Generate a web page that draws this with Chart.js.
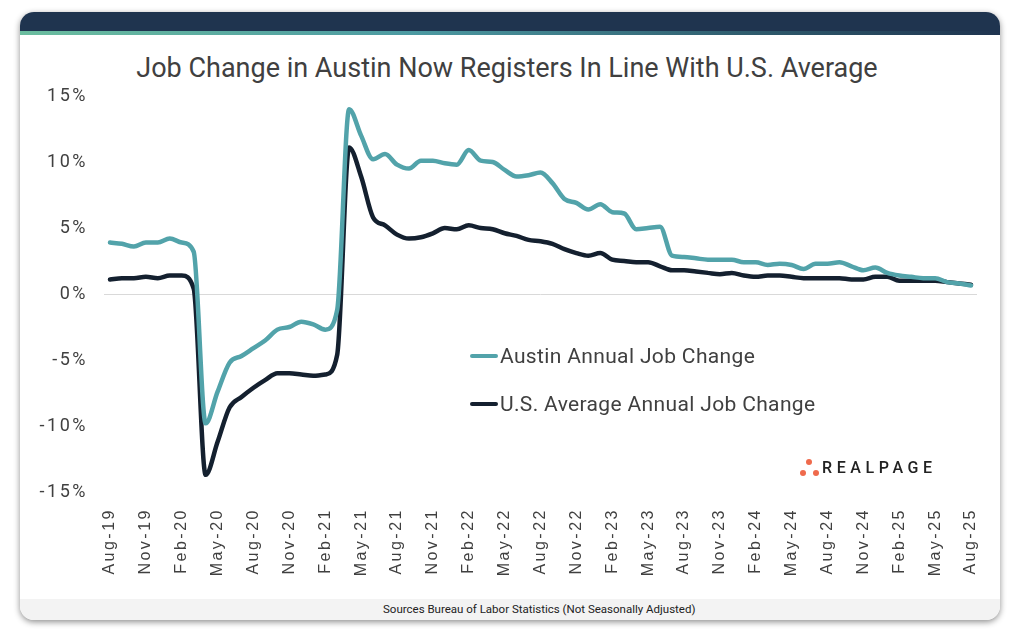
<!DOCTYPE html>
<html>
<head>
<meta charset="utf-8">
<script src="https://cdn.jsdelivr.net/npm/chart.js@4"></script>
<style>
  html, body { margin: 0; padding: 0; background: #fff; }
  body { width: 1020px; height: 633px; position: relative; overflow: hidden; font-family: Roboto, sans-serif; }
  #card { position: absolute; left: 20px; top: 12px; width: 980px; height: 608px; background: #fff;
          border-radius: 14px; box-shadow: 0 2px 6px rgba(0,0,0,0.45); overflow: hidden; }
  #head { position: absolute; left: 0; top: 0; width: 100%; height: 19px; background: #1f344f; }
  #stripe { position: absolute; left: 0; top: 19px; width: 100%; height: 4px;
            background: linear-gradient(90deg, #6bbd9f 0%, #4c9aa2 40%, #2e5a6c 75%, #1f344f 100%); }
  #foot { position: absolute; left: 0; bottom: 0; width: 100%; height: 21px; background: #f3f3f3; }
  #foot span { position: absolute; left: 363px; top: 0; white-space: nowrap;
          font-family: "Liberation Sans Narrow", "Roboto", sans-serif; font-size: 11.5px; color: #222; line-height: 21px; }
  #title { position: absolute; left: 0; top: 52px; width: 1014px; text-align: center; font-size: 27px; color: #404040; }
  canvas#c { position: absolute; left: 0; top: 0; }
  .leg { position: absolute; left: 470px; font-size: 21px; letter-spacing: 0.35px; color: #404040; white-space: nowrap; }
  .leg i { display: inline-block; width: 28px; height: 4px; border-radius: 2px; vertical-align: middle; margin-right: 2px; position: relative; top: -1px; }
  #logo { position: absolute; left: 800px; top: 458px; }
  #logo b { position: absolute; width: 6px; height: 6px; border-radius: 50%; background: #ef6a4c; }
  #logo span { position: absolute; left: 22px; top: 0; font-size: 16px; font-weight: 500; letter-spacing: 4.6px; color: #222; line-height: 20px; }
</style>
</head>
<body>
<div id="card">
  <div id="head"></div>
  <div id="stripe"></div>
  <div id="foot"><span>Sources Bureau of Labor Statistics (Not Seasonally Adjusted)</span></div>
</div>
<div id="title">Job Change in Austin Now Registers In Line With U.S. Average</div>
<canvas id="c" width="1020" height="633"></canvas>
<div class="leg" style="top:344px"><i style="background:#52a3aa"></i>Austin Annual Job Change</div>
<div class="leg" style="top:392px"><i style="background:#14202f"></i>U.S. Average Annual Job Change</div>
<div id="logo">
  <b style="left:6px;top:1px"></b><b style="left:0px;top:12px"></b><b style="left:13px;top:12px"></b>
  <span>REALPAGE</span>
</div>
<script>
var monLabel = ["Jan", "Feb", "Mar", "Apr", "May", "Jun", "Jul", "Aug", "Sep", "Oct", "Nov", "Dec"];

// Aug-19 .. Aug-25, monthly
var meses = [];
for (let k = 0; k < 73; k++) {
  let m = (7 + k) % 12;
  let y = 19 + Math.floor((7 + k) / 12);
  meses.push(monLabel[m] + "-" + y);
}

var austin = [
  3.9, 3.8, 3.6, 3.9, 3.9, 4.2, 3.9, 3.2, -9.8, -7.4, -5.2, -4.7,
  -4.1, -3.5, -2.7, -2.5, -2.1, -2.3, -2.7, -1.2, 14.0, 12.0, 10.2, 10.6,
  9.8, 9.5, 10.1, 10.1, 9.9, 9.8, 10.9, 10.1, 10.0, 9.4, 8.9, 9.0,
  9.2, 8.4, 7.2, 6.9, 6.4, 6.8, 6.2, 6.1, 4.9, 5.0, 5.1, 2.9,
  2.8, 2.7, 2.6, 2.6, 2.6, 2.4, 2.4, 2.2, 2.3, 2.2, 1.9, 2.3,
  2.3, 2.4, 2.1, 1.8, 2.0, 1.6, 1.4, 1.3, 1.2, 1.2, 0.9, 0.8,
  0.65
];

var usAvg = [
  1.1, 1.2, 1.2, 1.3, 1.2, 1.4, 1.4, 0.4, -13.7, -11.2, -8.6, -7.8,
  -7.1, -6.5, -6.0, -6.0, -6.1, -6.2, -6.1, -4.6, 11.1, 8.9, 5.8, 5.2,
  4.5, 4.2, 4.3, 4.6, 5.0, 4.9, 5.2, 5.0, 4.9, 4.6, 4.4, 4.1,
  4.0, 3.8, 3.4, 3.1, 2.9, 3.1, 2.6, 2.5, 2.4, 2.4, 2.1, 1.8,
  1.8, 1.7, 1.6, 1.5, 1.6, 1.4, 1.3, 1.4, 1.4, 1.3, 1.2, 1.2,
  1.2, 1.2, 1.1, 1.1, 1.3, 1.3, 1.0, 1.0, 1.0, 1.0, 0.9, 0.8,
  0.7
];

var yTicks = [15, 10, 5, 0, -5, -10, -15];

var spacing = {
  id: 'spacing',
  beforeDraw(chart) { chart.ctx.letterSpacing = '2.5px'; }
};

new Chart(document.getElementById('c').getContext('2d'), {
  type: 'line',
  data: {
    labels: meses,
    datasets: [
      { label: 'Austin Annual Job Change', data: austin, borderColor: '#52a3aa', borderWidth: 4.5,
        pointRadius: 0, tension: 0.4, cubicInterpolationMode: 'monotone', borderCapStyle: 'round' },
      { label: 'U.S. Average Annual Job Change', data: usAvg, borderColor: '#14202f', borderWidth: 4.5,
        pointRadius: 0, tension: 0.4, cubicInterpolationMode: 'monotone', borderCapStyle: 'round' }
    ]
  },
  options: {
    responsive: false,
    animation: false,
    layout: { padding: { top: 96, right: 43, bottom: 0, left: 0 } },
    plugins: { legend: { display: false }, tooltip: { enabled: false } },
    scales: {
      x: {
        offset: true,
        afterFit(s) { s.height = 633 - 492; },
        grid: { display: false },
        border: { display: false },
        ticks: {
          autoSkip: false, maxRotation: 90, minRotation: 90, padding: 8,
          color: '#404040', font: { family: '"Liberation Sans", Arial, sans-serif', size: 16 },
          callback(v, i) { return i % 3 === 0 ? meses[i] : ''; }
        }
      },
      y: {
        min: -15, max: 15,
        afterFit(s) { s.width = 104; },
        afterBuildTicks(s) { s.ticks = yTicks.map(v => ({ value: v })); },
        border: { display: false },
        grid: {
          drawTicks: false,
          color: ctx => ctx.tick && ctx.tick.value === 0 ? '#d9d9d9' : 'rgba(0,0,0,0)',
          lineWidth: 1
        },
        ticks: {
          padding: 16, color: '#404040', font: { family: 'Roboto, sans-serif', size: 18 },
          callback: v => v + '%'
        }
      }
    }
  },
  plugins: [spacing]
});
</script>
</body>
</html>
